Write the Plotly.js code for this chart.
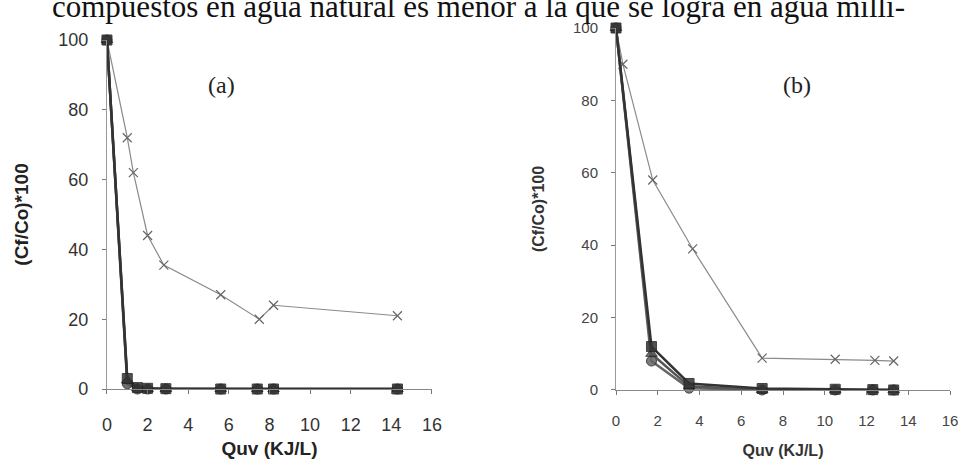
<!DOCTYPE html>
<html>
<head>
<meta charset="utf-8">
<script src="https://cdn.plot.ly/plotly-3.0.1.min.js"></script>
<style>html,body{margin:0;padding:0;background:#fff;}#chart{width:961px;height:463px;}</style>
</head>
<body>
<div id="chart"></div>
<script>
// Panel (a): Quv (KJ/L) and (Cf/Co)*100
const qA = [0, 1.0, 1.5, 2.0, 2.9, 5.6, 7.4, 8.2, 14.3];
const a1 = [100, 3, 0.4, 0.2, 0.1, 0, 0, 0, 0];
const a2 = [100, 2.5, 0.2, 0, 0, 0, 0, 0, 0];
const a3 = [100, 1.5, 0, 0, 0, 0, 0, 0, 0];
const qA4 = [0, 1.0, 1.3, 2.0, 2.8, 5.6, 7.5, 8.2, 14.3];
const a4 = [100, 72, 62, 44, 35.5, 27, 20, 24, 21];

// Panel (b)
const qB = [0, 1.7, 3.5, 7.0, 10.5, 12.3, 13.3];
const b1 = [100, 12, 1.8, 0.4, 0.2, 0.1, 0];
const b2 = [100, 10, 1, 0, 0, 0, 0];
const b3 = [100, 8, 0.5, 0, 0, 0, 0];
const qB4 = [0, 0.33, 1.76, 3.67, 7.0, 10.5, 12.4, 13.3];
const b4 = [100, 90, 58, 39, 8.8, 8.5, 8.2, 8];

const xTicks = [0, 2, 4, 6, 8, 10, 12, 14, 16];
const yTicks = [0, 20, 40, 60, 80, 100];
const xTitle = 'Quv (KJ/L)';
const yTitle = '(Cf/Co)*100';
const topText = 'compuestos en agua natural es menor a la que se logra en agua milli-';

function dark(x, y, sym, col, xa, ya) {
  return {x: x, y: y, xaxis: xa, yaxis: ya, type: 'scatter', mode: 'lines+markers', cliponaxis: false,
    line: {color: col, width: 2.5},
    marker: {symbol: sym, size: 10, color: col, opacity: 0.85, line: {color: '#222', width: 1}}};
}
function light(x, y, xa, ya) {
  return {x: x, y: y, xaxis: xa, yaxis: ya, type: 'scatter', mode: 'lines+markers', cliponaxis: false,
    line: {color: '#8a8a8a', width: 1.2},
    marker: {symbol: 'x-thin-open', size: 9, color: '#666', line: {color: '#666', width: 1.2}}};
}

const data = [
  light(qA4, a4, 'x', 'y'),
  dark(qA, a3, 'circle', '#555', 'x', 'y'),
  dark(qA, a2, 'triangle-up', '#444', 'x', 'y'),
  dark(qA, a1, 'square', '#333', 'x', 'y'),
  light(qB4, b4, 'x2', 'y2'),
  dark(qB, b3, 'circle', '#666', 'x2', 'y2'),
  dark(qB, b2, 'triangle-up', '#555', 'x2', 'y2'),
  dark(qB, b1, 'square', '#333', 'x2', 'y2')
];

const tickA = {family: 'Liberation Sans, Arial, sans-serif', size: 18, color: '#333'};
const tickB = {family: 'Liberation Sans, Arial, sans-serif', size: 15, color: '#444'};
const titleA = {family: 'Liberation Sans, Arial, sans-serif', size: 19, color: '#222', weight: 'bold'};
const titleB = {family: 'Liberation Sans, Arial, sans-serif', size: 16, color: '#333', weight: 'bold'};

function xax(dom, font, tfont, anchor, lstand, tstand) {
  return {domain: dom, anchor: anchor, range: [0, 16], tickvals: xTicks, ticks: 'outside', ticklen: 4,
    tickcolor: '#777', showline: true, linecolor: '#888', linewidth: 1, showgrid: false, zeroline: false,
    tickfont: font, ticklabelstandoff: lstand,
    title: {text: xTitle, font: tfont, standoff: tstand}};
}
function yax(dom, font, tfont, anchor) {
  return {domain: dom, anchor: anchor, range: [0, 100], tickvals: yTicks, ticks: 'outside', ticklen: 4,
    tickcolor: '#777', showline: true, linecolor: '#999', linewidth: 1, showgrid: false, zeroline: false,
    tickfont: font, ticklabelstandoff: 10,
    title: {text: yTitle, font: tfont, standoff: 24}};
}

const layout = {
  width: 961, height: 463,
  margin: {l: 0, r: 0, t: 0, b: 0},
  paper_bgcolor: '#fff', plot_bgcolor: '#fff',
  showlegend: false,
  xaxis: xax([0.1113, 0.4495], tickA, titleA, 'y', 15, 8),
  yaxis: yax([0.1598, 0.9136], tickA, titleA, 'x'),
  xaxis2: xax([0.641, 0.9886], tickB, titleB, 'y2', 13, 16),
  yaxis2: yax([0.1577, 0.9395], tickB, titleB, 'x2'),
  annotations: [
    {text: topText, xref: 'paper', yref: 'paper', x: 0.052, y: 0.944, xanchor: 'left', yanchor: 'bottom',
     showarrow: false, font: {family: 'Liberation Serif, Times New Roman, serif', size: 31, color: '#111'}},
    {text: '(a)', xref: 'paper', yref: 'paper', x: 0.231, y: 0.8164, xanchor: 'center', yanchor: 'middle',
     showarrow: false, font: {family: 'Liberation Serif, Times New Roman, serif', size: 24, color: '#222'}},
    {text: '(b)', xref: 'paper', yref: 'paper', x: 0.8293, y: 0.8164, xanchor: 'center', yanchor: 'middle',
     showarrow: false, font: {family: 'Liberation Serif, Times New Roman, serif', size: 24, color: '#222'}}
  ]
};

Plotly.newPlot('chart', data, layout, {staticPlot: true, displayModeBar: false});
</script>
</body>
</html>
